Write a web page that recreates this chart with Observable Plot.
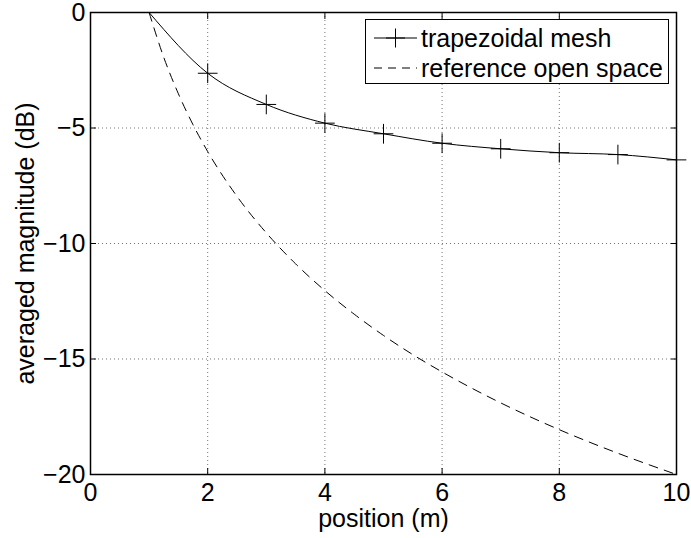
<!DOCTYPE html>
<html>
<head>
<meta charset="utf-8">
<script src="https://cdn.jsdelivr.net/npm/d3@7"></script>
<script src="https://cdn.jsdelivr.net/npm/@observablehq/plot@0.6"></script>
<style>
  body { margin: 0; background: #fff; }
  #chart { position: relative; width: 691px; height: 538px; font-family: "Liberation Sans", Arial, sans-serif; }
  #chart > svg { overflow: visible; }
  #legend { position: absolute; left: 365px; top: 19px; width: 304px; height: 65px; box-sizing: border-box; border: 1px solid #000; background: #fff; }
  #legend svg { display: block; }
</style>
</head>
<body>
<div id="chart"></div>
<script>
// ---- data ----
const meshPositions = [1, 2, 3, 4, 5, 6, 7, 8, 9, 10];
const meshValues = [0, -2.63, -3.98, -4.79, -5.25, -5.66, -5.90, -6.07, -6.15, -6.38];
const refPositions = [1, 1.25, 1.5, 1.75, 2, 2.5, 3, 3.5, 4, 4.5, 5, 5.5, 6, 7, 8, 9, 10];
const refValues = [0, -1.94, -3.52, -4.86, -6.02, -7.96, -9.54, -10.88, -12.04, -13.06, -13.98, -14.81, -15.56, -16.90, -18.06, -19.08, -20.0];
const xTicks = [0, 2, 4, 6, 8, 10];
const yTicks = [0, -5, -10, -15, -20];
const xGrid = [2, 4, 6, 8];
const yGrid = [-5, -10, -15];
const seriesNames = ["trapezoidal mesh", "reference open space"];
const xLabel = "position (m)";
const yLabel = "averaged magnitude (dB)";

const mesh = meshPositions.map((x, i) => ({x, y: meshValues[i]}));
const ref = refPositions.map((x, i) => ({x, y: refValues[i]}));
const fmt = d => (d < 0 ? "\u2212" + Math.abs(d) : String(d));
const dash = "9,7";

const plot = Plot.plot({
  width: 691,
  height: 538,
  marginTop: 12,
  marginRight: 15,
  marginBottom: 64,
  marginLeft: 90,
  style: { fontFamily: "'Liberation Sans', Arial, sans-serif", fontSize: "25px", color: "#000", background: "#fff", overflow: "visible" },
  x: { domain: [0, 10] },
  y: { domain: [-20, 0] },
  marks: [
    Plot.gridX(xGrid, { stroke: "#000", strokeOpacity: 0.55, strokeDasharray: "1,3", strokeWidth: 1 }),
    Plot.gridY(yGrid, { stroke: "#000", strokeOpacity: 0.55, strokeDasharray: "1,3", strokeWidth: 1 }),
    Plot.line(ref, { x: "x", y: "y", stroke: "#000", strokeWidth: 1, strokeDasharray: dash, curve: "monotone-x" }),
    Plot.line(mesh, { x: "x", y: "y", stroke: "#000", strokeWidth: 1, curve: "monotone-x" }),
    Plot.dot(mesh, { filter: d => d.x > 1, x: "x", y: "y", symbol: "plus", r: 6.4, stroke: "#000", strokeWidth: 1 }),
    Plot.axisX(xTicks, { anchor: "bottom", tickSize: 0, tickPadding: 9, tickFormat: fmt, fontSize: 25, label: null }),
    Plot.axisX(xTicks, { anchor: "bottom", tickSize: -6, tickFormat: () => "", label: null }),
    Plot.axisX(xTicks, { anchor: "top", tickSize: -6, tickFormat: () => "", label: null }),
    Plot.axisY(yTicks, { anchor: "left", tickSize: 0, tickPadding: 5, tickFormat: fmt, fontSize: 25, label: null }),
    Plot.axisY(yTicks, { anchor: "left", tickSize: -6, tickFormat: () => "", label: null }),
    Plot.axisY(yTicks, { anchor: "right", tickSize: -6, tickFormat: () => "", label: null }),
    Plot.text([xLabel], { frameAnchor: "bottom", text: d => d, dy: 44, fontSize: 25, lineAnchor: "middle", textAnchor: "middle" }),
    Plot.text([yLabel], { frameAnchor: "left", text: d => d, dx: -65, rotate: -90, fontSize: 25, lineAnchor: "middle", textAnchor: "middle" }),
    Plot.frame({ stroke: "#000", strokeWidth: 1.5 })
  ]
});

const chart = document.getElementById("chart");
chart.appendChild(plot);

// legend overlay
const legend = document.createElement("div");
legend.id = "legend";
chart.appendChild(legend);
const svg = d3.select(legend).append("svg").attr("width", 302).attr("height", 63);
const rows = [
  { name: seriesNames[0], y: 18, dashed: false },
  { name: seriesNames[1], y: 48, dashed: true }
];
rows.forEach(r => {
  svg.append("line").attr("x1", 8).attr("x2", 51).attr("y1", r.y).attr("y2", r.y)
    .attr("stroke", "#000").attr("stroke-width", 1)
    .attr("stroke-dasharray", r.dashed ? "8,6" : null);
  if (!r.dashed) {
    svg.append("path").attr("d", `M${29.5 - 9.5},${r.y}h19M29.5,${r.y - 9.5}v19`).attr("stroke", "#000").attr("fill", "none");
  }
  svg.append("text").attr("x", 55).attr("y", r.y).attr("dy", "0.35em")
    .attr("font-size", 25).attr("font-family", "'Liberation Sans', Arial, sans-serif")
    .text(r.name);
});
</script>
</body>
</html>
